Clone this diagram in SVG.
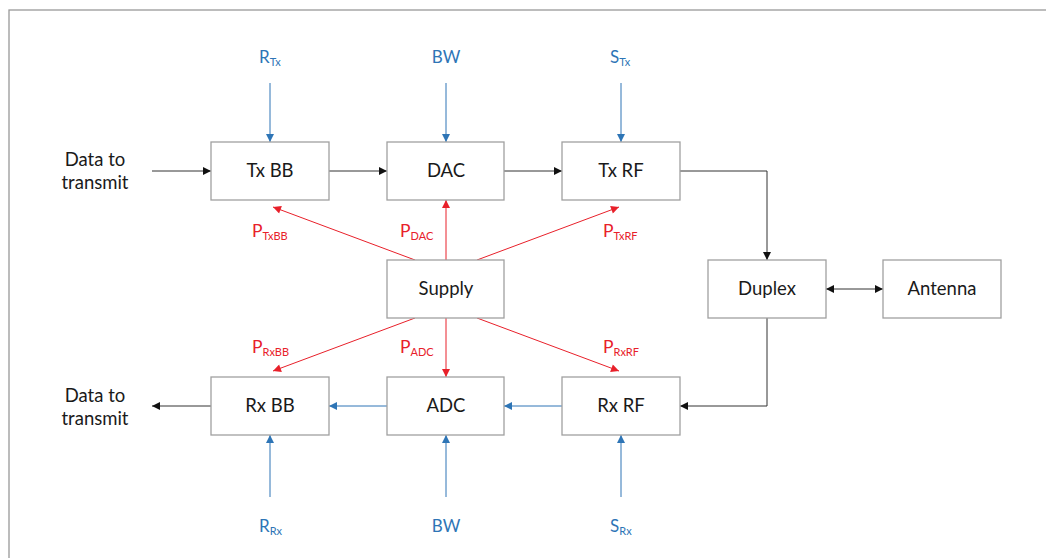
<svg xmlns="http://www.w3.org/2000/svg" width="1046" height="558" viewBox="0 0 1046 558">
<style>
.box{fill:#fff;stroke:#a0a0a0;stroke-width:1.3}
.t{font-family:Lato,"Liberation Sans",sans-serif;font-size:18.5px;fill:#1a1a1a;text-anchor:middle}
.blk{stroke:#333;stroke-width:1;fill:none}
.blu{stroke:#2E75B6;stroke-width:1;fill:none}
.red{stroke:#E8202A;stroke-width:1;fill:none}
.bl{font-family:Lato,"Liberation Sans",sans-serif;font-size:17px;fill:#2E75B6}
.rd{font-family:Lato,"Liberation Sans",sans-serif;font-size:17.5px;fill:#E8202A}
.sub{font-size:11px}
</style>
<defs>
<marker id="ak" viewBox="0 0 10 10" refX="10" refY="5" markerWidth="12" markerHeight="8" markerUnits="userSpaceOnUse" orient="auto-start-reverse"><path d="M0,0L10,5L0,10z" fill="#111"/></marker>
<marker id="ab" viewBox="0 0 10 10" refX="10" refY="5" markerWidth="12" markerHeight="8" markerUnits="userSpaceOnUse" orient="auto"><path d="M0,0L10,5L0,10z" fill="#2E75B6"/></marker>
<marker id="ar" viewBox="0 0 10 10" refX="10" refY="5" markerWidth="12" markerHeight="8" markerUnits="userSpaceOnUse" orient="auto"><path d="M0,0L10,5L0,10z" fill="#E8202A"/></marker>
</defs>
<rect x="0" y="0" width="1046" height="558" fill="#fff"/>
<rect x="9" y="10" width="1100" height="600" fill="none" stroke="#999" stroke-width="1.3"/>

<g id="connectors">
<line class="blk" x1="152" y1="171" x2="211" y2="171" marker-end="url(#ak)"/>
<line class="blk" x1="329" y1="171" x2="387" y2="171" marker-end="url(#ak)"/>
<line class="blk" x1="504" y1="171" x2="562" y2="171" marker-end="url(#ak)"/>
<polyline class="blk" points="680,171 767,171 767,260" marker-end="url(#ak)"/>
<line class="blk" x1="826" y1="289" x2="883" y2="289" marker-start="url(#ak)" marker-end="url(#ak)"/>
<polyline class="blk" points="767,318 767,406 680,406" marker-end="url(#ak)"/>
<line class="blk" x1="211" y1="406" x2="152" y2="406" marker-end="url(#ak)"/>
<line class="blu" x1="562" y1="406" x2="504" y2="406" marker-end="url(#ab)"/>
<line class="blu" x1="387" y1="406" x2="329" y2="406" marker-end="url(#ab)"/>
<line class="blu" x1="270" y1="83" x2="270" y2="142" marker-end="url(#ab)"/>
<line class="blu" x1="446" y1="83" x2="446" y2="142" marker-end="url(#ab)"/>
<line class="blu" x1="621" y1="83" x2="621" y2="142" marker-end="url(#ab)"/>
<line class="blu" x1="270" y1="497" x2="270" y2="435" marker-end="url(#ab)"/>
<line class="blu" x1="446" y1="497" x2="446" y2="435" marker-end="url(#ab)"/>
<line class="blu" x1="621" y1="497" x2="621" y2="435" marker-end="url(#ab)"/>
<line class="red" x1="415" y1="260" x2="273" y2="207" marker-end="url(#ar)"/>
<line class="red" x1="446" y1="260" x2="446" y2="200" marker-end="url(#ar)"/>
<line class="red" x1="477" y1="260" x2="619" y2="207" marker-end="url(#ar)"/>
<line class="red" x1="415" y1="318" x2="273" y2="371" marker-end="url(#ar)"/>
<line class="red" x1="446" y1="318" x2="446" y2="377" marker-end="url(#ar)"/>
<line class="red" x1="477" y1="318" x2="619" y2="371" marker-end="url(#ar)"/>
</g>

<g id="labels">
<text class="t" x="95" y="166">Data to</text>
<text class="t" x="95" y="189">transmit</text>
<text class="t" x="95" y="402">Data to</text>
<text class="t" x="95" y="425">transmit</text>
<text class="bl" x="259" y="63">R<tspan class="sub" dy="3">Tx</tspan></text>
<text class="bl" x="446" y="63" text-anchor="middle">BW</text>
<text class="bl" x="610" y="63">S<tspan class="sub" dy="3">Tx</tspan></text>
<text class="bl" x="259" y="532">R<tspan class="sub" dy="3">Rx</tspan></text>
<text class="bl" x="446" y="532" text-anchor="middle">BW</text>
<text class="bl" x="610" y="532">S<tspan class="sub" dy="3">Rx</tspan></text>
<text class="rd" x="252" y="237">P<tspan class="sub" dy="3">TxBB</tspan></text>
<text class="rd" x="400" y="237">P<tspan class="sub" dy="3">DAC</tspan></text>
<text class="rd" x="603" y="237">P<tspan class="sub" dy="3">TxRF</tspan></text>
<text class="rd" x="252" y="353">P<tspan class="sub" dy="3">RxBB</tspan></text>
<text class="rd" x="400" y="353">P<tspan class="sub" dy="3">ADC</tspan></text>
<text class="rd" x="603" y="353">P<tspan class="sub" dy="3">RxRF</tspan></text>
</g>

<g id="txbb"><rect class="box" x="211" y="142" width="118" height="58"/><text class="t" x="270" y="177">Tx BB</text></g>
<g id="dac"><rect class="box" x="387" y="142" width="117" height="58"/><text class="t" x="446" y="177">DAC</text></g>
<g id="txrf"><rect class="box" x="562" y="142" width="118" height="58"/><text class="t" x="621" y="177">Tx RF</text></g>
<g id="supply"><rect class="box" x="387" y="260" width="117" height="58"/><text class="t" x="446" y="295">Supply</text></g>
<g id="duplex"><rect class="box" x="708" y="260" width="118" height="58"/><text class="t" x="767" y="295">Duplex</text></g>
<g id="antenna"><rect class="box" x="883" y="260" width="118" height="58"/><text class="t" x="942" y="295">Antenna</text></g>
<g id="rxbb"><rect class="box" x="211" y="377" width="118" height="58"/><text class="t" x="270" y="412">Rx BB</text></g>
<g id="adc"><rect class="box" x="387" y="377" width="117" height="58"/><text class="t" x="446" y="412">ADC</text></g>
<g id="rxrf"><rect class="box" x="562" y="377" width="118" height="58"/><text class="t" x="621" y="412">Rx RF</text></g>
</svg>
